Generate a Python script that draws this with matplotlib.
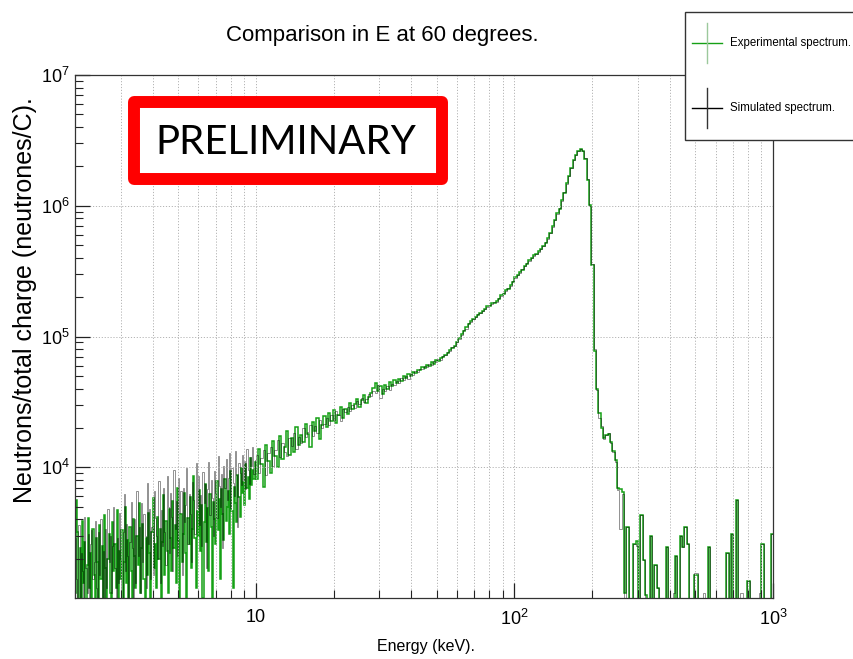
import numpy as np
import matplotlib.pyplot as plt
from matplotlib.patches import Rectangle
from matplotlib.lines import Line2D
from matplotlib.ticker import LogLocator, NullFormatter

# Energy binning (keV): finer log bins below 10 keV, coarser above
low_edges = np.geomspace(2.0, 10.0, 157)
high_edges = np.geomspace(10.0, 1000.0, 223)
energy_edges = np.concatenate([low_edges, high_edges[1:]])

# Bin contents in units of 10^3 neutrons/C, split by energy range
# 2-10 keV
exp_low = [1.1, 5.6, 3.2, 0.8, 2.4, 1.0, 3.9, 1.3, 2.7, 0.9, 1.8, 4.1,
           1.2, 2.2, 0.7, 3.4, 1.5, 0.9, 2.9, 1.9, 0.8, 3.6, 1.4, 2.5,
           1.0, 4.3, 1.7, 0.8, 2.0, 3.1, 1.1, 0.9, 3.8, 1.6, 2.6, 1.2,
           4.7, 0.9, 2.3, 1.4, 3.3, 0.8, 1.9, 5.0, 1.3, 2.8, 1.0, 3.5,
           1.6, 0.9, 4.0, 2.1, 1.2, 3.0, 1.8, 5.3, 1.1, 2.4, 3.7, 1.4,
           0.9, 2.9, 1.5, 4.5, 2.2, 1.0, 3.2, 5.8, 1.7, 2.6, 1.2, 4.2,
           2.0, 3.4, 0.8, 2.7, 6.1, 1.5, 3.9, 2.3, 1.1, 4.8, 2.9, 1.6,
           5.5, 2.4, 3.6, 1.3, 7.0, 2.8, 0.9, 4.4, 1.9, 3.1, 6.4, 2.2,
           0.8, 4.1, 2.6, 5.9, 1.7, 3.4, 8.6, 2.9, 1.2, 4.6, 3.0, 6.7,
           2.3, 5.1, 1.0, 3.8, 7.4, 2.7, 4.9, 1.6, 6.2, 3.5, 0.9, 5.4,
           4.0, 2.6, 7.9, 3.3, 5.7, 1.4, 6.8, 4.4, 2.8, 8.2, 3.9, 5.0,
           6.6, 3.1, 9.3, 4.6, 1.2, 7.1, 5.3, 3.8, 8.8, 5.9, 4.2, 9.9,
           6.4, 7.7, 5.1, 10.6, 6.9, 8.4, 5.7, 11.8, 7.3, 9.5, 8.1, 10.9]
sim_low = [2.9, 1.4, 0.8, 3.6, 1.0, 2.2, 1.6, 0.8, 4.2, 1.7, 1.1, 3.1,
           0.9, 2.6, 3.3, 1.4, 1.9, 3.9, 1.2, 0.8, 3.2, 1.5, 4.0, 1.0,
           2.3, 0.9, 3.4, 1.2, 4.8, 1.9, 3.0, 1.1, 2.5, 5.0, 1.7, 0.8,
           2.9, 1.3, 4.5, 2.0, 0.9, 3.2, 6.2, 1.6, 3.7, 2.1, 1.0, 2.7,
           5.4, 2.4, 1.0, 4.0, 1.3, 6.6, 2.1, 3.5, 1.1, 5.3, 1.9, 4.4,
           3.0, 1.2, 7.6, 2.6, 4.8, 1.4, 3.5, 1.5, 6.6, 4.1, 3.0, 2.0,
           7.9, 1.3, 4.7, 2.5, 6.9, 3.2, 1.8, 8.5, 5.0, 2.2, 6.4, 4.2,
           1.6, 9.6, 3.4, 5.5, 2.1, 8.3, 4.5, 6.6, 1.5, 7.0, 3.8, 5.1,
           9.8, 2.6, 6.2, 4.4, 1.9, 7.7, 5.6, 3.1, 10.8, 4.9, 8.6, 3.6,
           6.1, 2.5, 9.2, 5.3, 7.5, 1.7, 6.8, 11.0, 4.3, 8.0, 5.8, 3.0,
           9.4, 6.4, 4.1, 12.2, 7.2, 5.0, 8.9, 2.4, 10.3, 6.9, 11.6, 5.6,
           8.3, 12.8, 4.9, 9.9, 7.6, 6.0, 13.4, 8.7, 3.5, 10.8, 9.1, 7.3,
           12.5, 8.0, 11.1, 6.8, 13.9, 9.6, 7.4, 12.0, 10.2, 14.3, 8.9, 11.4]

# 10-60 keV
exp_mid = [8.2, 13.9, 10.5, 7.1, 14.8, 11.2, 9.0, 15.9, 12.1, 10.0,
           17.2, 11.6, 14.4, 18.9, 12.3, 16.7, 13.1, 20.4, 14.9, 17.8,
           15.6, 21.3, 17.9, 14.2, 22.0, 19.1, 23.8, 16.5, 20.9, 24.6,
           20.3, 26.0, 22.4, 27.5, 21.8, 24.9, 29.1, 23.7, 28.0, 25.6,
           31.2, 27.8, 30.4, 33.5, 29.0, 32.8, 35.7, 31.1, 34.3, 37.0,
           40.2, 43.8, 38.1, 41.7, 36.4, 42.9, 40.0, 44.8, 41.6, 46.2,
           43.9, 47.5, 45.6, 49.8, 48.2, 51.9, 50.0, 53.6, 52.3, 55.8,
           55.1, 58.7, 57.0, 60.9, 59.6, 63.3, 62.0, 66.1, 65.2, 68.4,
           69.9, 72.8, 75.4, 78.2, 81.9, 85.3, 90.0]
sim_mid = [12.4, 9.1, 11.8, 13.6, 8.7, 12.9, 14.2, 10.3, 13.5, 16.1,
           11.9, 15.3, 13.0, 12.2, 16.6, 14.5, 18.3, 13.8, 17.0, 15.2,
           19.8, 16.9, 18.7, 21.0, 17.4, 20.6, 18.2, 22.9, 19.9, 21.5,
           23.9, 21.2, 25.3, 23.1, 26.8, 25.0, 22.6, 27.9, 26.4, 28.7,
           27.1, 30.0, 28.6, 31.9, 30.5, 34.1, 31.5, 33.0, 36.2, 34.9,
           38.5, 36.7, 42.4, 33.9, 39.8, 38.0, 42.1, 39.3, 43.7, 42.5,
           45.9, 44.1, 47.8, 46.3, 50.1, 47.7, 51.4, 50.6, 54.0, 53.2,
           56.8, 56.0, 59.4, 58.2, 61.7, 61.0, 64.6, 63.5, 67.2, 66.6,
           71.1, 71.7, 76.2, 77.5, 82.8, 84.6, 91.2]

# 60-250 keV: main peak and fall-off
exp_peak = [98, 105, 110, 118, 124, 131, 135, 142, 146, 152,
            158, 161, 170, 172, 180, 180, 188, 193, 206, 212,
            226, 232, 247, 261, 284, 293, 311, 322, 349, 361,
            382, 396, 419, 425, 450, 466, 493, 522, 565, 614,
            695, 772, 875, 950, 1100, 1255, 1485, 1695, 1955, 2235,
            2460, 2625, 2730, 2635, 2280, 1580, 1010, 350, 78, 40,
            26, 19.8, 16.8, 17.6, 18.0, 15.7, 13.3, 11.4, 6.9, 6.8,
            6.5]
sim_peak = [96, 103, 112, 115, 126, 129, 137, 140, 148, 150,
            157, 163, 168, 175, 177, 183, 185, 196, 203, 216,
            222, 236, 244, 265, 280, 297, 308, 326, 345, 365,
            378, 400, 415, 429, 445, 470, 488, 528, 560, 620,
            690, 780, 868, 958, 1090, 1265, 1475, 1700, 1945, 2245,
            2450, 2635, 2720, 2625, 2300, 1590, 990, 360, 80, 39,
            24, 20.5, 16.4, 17.8, 18.4, 15.3, 13.1, 11.0, 6.7, 3.4,
            6.2]

# 250-1000 keV: sparse tail
exp_tail = [1.1, 3.5, 0, 0, 2.6, 2.75, 0, 4.3, 1.95, 1.05,
            0, 3.0, 0, 1.8, 1.2, 0, 0, 0, 2.45, 0,
            0, 0, 2.1, 0, 3.0, 2.45, 3.5, 2.6, 0, 0,
            1.5, 1.5, 0, 0, 0, 0, 2.45, 0, 0, 0,
            0, 0, 0, 0, 2.2, 0, 3.1, 0, 5.6, 0,
            0, 0, 0, 1.35, 0, 0, 0, 0, 0, 2.6,
            0, 0, 0, 3.1]
sim_tail = [0, 3.5, 0, 0, 2.6, 2.5, 0, 4.3, 1.95, 0,
            0, 3.0, 0, 1.8, 1.2, 0, 0, 0, 2.45, 0,
            0, 1.1, 2.1, 0, 3.0, 2.45, 3.5, 2.6, 0, 0,
            1.55, 1.55, 0, 0, 1.1, 0, 2.45, 0, 0, 0,
            0, 0, 0, 0, 2.2, 0, 3.1, 0, 5.6, 0,
            1.1, 0, 0, 1.35, 0, 0, 0, 0, 1.1, 2.6,
            0, 0, 0, 3.1]

experimental = 1e3 * np.concatenate([exp_low, exp_mid, exp_peak, exp_tail])
simulated = 1e3 * np.concatenate([sim_low, sim_mid, sim_peak, sim_tail])

W, H = 854, 659
plt.rcParams['font.family'] = ['Liberation Sans', 'DejaVu Sans']
plt.rcParams['mathtext.fontset'] = 'custom'
plt.rcParams['mathtext.rm'] = 'Liberation Sans'


def fx(px):
    return px / W


def fy(py):
    return 1 - py / H


fig = plt.figure(figsize=(W / 100, H / 100), dpi=100)
ax = fig.add_axes([fx(75), fy(598), fx(773) - fx(75), fy(75) - fy(598)])

ax.set_xscale('log')
ax.set_yscale('log', nonpositive='clip')

# experimental first, simulated drawn thin on top of it
ax.stairs(experimental, energy_edges, baseline=None, color='#15a015', lw=1.1)
ax.stairs(simulated, energy_edges, baseline=None, color='black', lw=0.6, alpha=0.5)

ax.set_xlim(2, 1000)
ax.set_ylim(1e3, 1e7)

# grid: vertical lines at every decade subdivision, horizontal only at decades
grid_style = dict(color='#b4b4b4', lw=0.7, ls=(0, (1.2, 1.8)))
ax.grid(which='major', axis='both', **grid_style)
ax.grid(which='minor', axis='x', **grid_style)

ax.set_xticks([10, 100, 1000], labels=['10', '$10^{2}$', '$10^{3}$'])
ax.set_yticks([1e4, 1e5, 1e6, 1e7],
              labels=['$10^{4}$', '$10^{5}$', '$10^{6}$', '$10^{7}$'])
ax.xaxis.set_minor_locator(LogLocator(base=10, subs=np.arange(2, 10)))
ax.yaxis.set_minor_locator(LogLocator(base=10, subs=np.arange(2, 10)))
ax.xaxis.set_minor_formatter(NullFormatter())
ax.yaxis.set_minor_formatter(NullFormatter())
ax.tick_params(which='both', direction='in', top=False, right=False,
               labelsize=13, color='#222222')
ax.tick_params(which='major', length=11, width=0.9)
ax.tick_params(which='minor', length=6, width=0.8)
ax.tick_params(axis='x', pad=8)
ax.tick_params(axis='y', pad=4)
for sp in ax.spines.values():
    sp.set_linewidth(0.9)
    sp.set_color('#333333')

fig.text(fx(382), fy(35), 'Comparison in E at 60 degrees.', ha='center',
         va='center', fontsize=16)
fig.text(fx(426), fy(646), 'Energy (keV).', ha='center', va='center', fontsize=11.5)
fig.text(fx(25), fy(300), 'Neutrons/total charge (neutrones/C).', rotation=90,
         ha='center', va='center', fontsize=18)

# legend box in the top-right corner
fig.patches.append(Rectangle((fx(685), fy(140)), 0.3, fy(12) - fy(140),
                             transform=fig.transFigure, fc='white',
                             ec='#333333', lw=1.0, zorder=5))
entries = [('Experimental spectrum.', 43, '#15a015', '#9cc89c'),
           ('Simulated spectrum.', 108, 'black', '#333333')]
for label, yc, hcol, vcol in entries:
    fig.add_artist(Line2D([fx(692), fx(722)], [fy(yc), fy(yc)], color=hcol,
                          lw=1.0, zorder=6))
    fig.add_artist(Line2D([fx(707), fx(707)], [fy(yc - 20), fy(yc + 20)],
                          color=vcol, lw=1.0, zorder=6))
    fig.text(fx(730), fy(yc), label, ha='left', va='center', fontsize=8.3, zorder=7)

# preliminary stamp
fig.patches.append(Rectangle((fx(134), fy(179)), fx(442) - fx(134), fy(102) - fy(179),
                             transform=fig.transFigure, fc='white', ec='#ff0000',
                             lw=8.6, joinstyle='round', zorder=5))
fig.text(fx(286), fy(142), 'PRELIMINARY', ha='center', va='center', fontsize=29,
         family=['Lato', 'DejaVu Sans'], zorder=6)

fig.savefig('out.png', dpi=100)
